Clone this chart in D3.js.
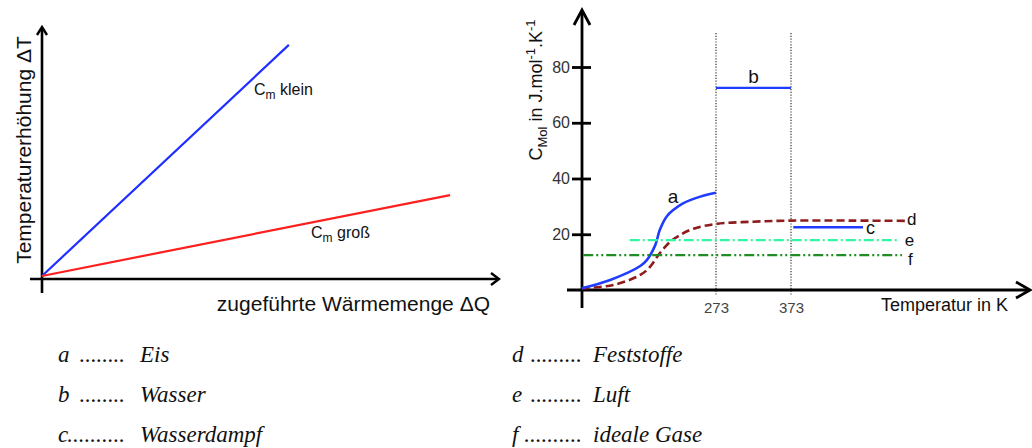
<!DOCTYPE html>
<html><head><meta charset="utf-8">
<script src="https://cdn.jsdelivr.net/npm/d3@7"></script>
<style>
body{margin:0;background:#fff}
svg text{font-family:"Liberation Sans",Arial,sans-serif;fill:#111}
svg text.leg{font-family:"Liberation Serif","Times New Roman",serif;font-style:italic}
</style></head><body>
<svg id="chart" width="1032" height="448"></svg>
<script>
// left diagram: temperature rise vs supplied heat
var lineNames = ["klein", "groß"];
var lineQ = [[0, 53.9], [0, 89.1]];
var lineT = [[1.2, 92.9], [1.2, 33.3]];
var lineColors = ["#1f2fff", "#ff1f1f"];

// right diagram: molar heat capacity vs temperature
var eisK = [94, 132, 172, 181, 192, 198, 207, 216, 229, 252, 273];
var eisC = [0.6, 3.6, 8.6, 10.8, 16.1, 21.5, 26.3, 28.7, 31.1, 33.5, 34.9];
var festK = [94, 136, 172, 185, 198, 212, 225, 243, 273, 322, 373, 456, 525];
var festC = [0.6, 1.8, 5.4, 8.3, 13.2, 17.3, 19.7, 22.0, 23.7, 24.5, 24.9, 24.9, 24.8];
var wasserK = [273, 373], wasserC = 72.5;
var dampfK = [376, 469], dampfC = 22.5;
var luftK = [158, 518], luftC = 17.9;
var gasK = [96, 521], gasC = 12.5;
var cTicks = [20, 40, 60, 80];
var tTicks = [273, 373];

// legend below
var legendKeys = ["a", "b", "c", "d", "e", "f"];
var legendDots = [8, 8, 10, 9, 9, 10];
var legendNames = ["Eis", "Wasser", "Wasserdampf", "Feststoffe", "Luft", "ideale Gase"];

var svg = d3.select("#chart");

function arrow(g, x, y, dir, w, l, sw) {
  // open chevron arrow head, dir: "up" or "right"
  var p = dir == "up"
    ? [[x - w, y + l], [x, y], [x + w, y + l]]
    : [[x - l, y - w], [x, y], [x - l, y + w]];
  g.append("path").attr("d", d3.line()(p))
    .attr("fill", "none").attr("stroke", "#000").attr("stroke-width", sw)
    .attr("stroke-linejoin", "miter");
}

// ---------- left chart ----------
var lx = d3.scaleLinear().domain([0, 100]).range([42, 500]);
var ly = d3.scaleLinear().domain([0, 100]).range([279, 27]);
var gl = svg.append("g");

gl.append("line").attr("x1", 30).attr("x2", 498).attr("y1", ly(0)).attr("y2", ly(0))
  .attr("stroke", "#000").attr("stroke-width", 2.6);
gl.append("line").attr("x1", lx(0)).attr("x2", lx(0)).attr("y1", 293).attr("y2", 28)
  .attr("stroke", "#000").attr("stroke-width", 2.6);
arrow(gl, 499, ly(0), "right", 6, 8, 2.4);
arrow(gl, lx(0), 27, "up", 5, 8, 2.4);

lineNames.forEach(function(n, i) {
  var pts = lineQ[i].map(function(q, j) { return [lx(q), ly(lineT[i][j])]; });
  gl.append("path").attr("d", d3.line()(pts))
    .attr("fill", "none").attr("stroke", lineColors[i]).attr("stroke-width", 2.2);
});

function cmLabel(g, x, y, word) {
  var t = g.append("text").attr("x", x).attr("y", y).style("font-size", "16px");
  t.append("tspan").text("C");
  t.append("tspan").attr("dy", 4).style("font-size", "12px").text("m");
  t.append("tspan").attr("dy", -4).text("\u00a0" + word);
}
cmLabel(gl, 254, 95, lineNames[0]);
cmLabel(gl, 311, 238, lineNames[1]);

gl.append("text").attr("x", 490).attr("y", 311).attr("text-anchor", "end")
  .style("font-size", "21px").text("zugeführte Wärmemenge ΔQ");
gl.append("text").attr("transform", "translate(31,150) rotate(-90)")
  .attr("text-anchor", "middle").style("font-size", "21px").text("Temperaturerhöhung ΔT");

// ---------- right chart ----------
var rx = d3.scaleLinear().domain([273, 373]).range([716, 791]);
var ry = d3.scaleLinear().domain([0, 80]).range([290, 67]);
var gr = svg.append("g");

// dotted phase-change lines
tTicks.forEach(function(t) {
  gr.append("line").attr("x1", rx(t)).attr("x2", rx(t)).attr("y1", 33).attr("y2", 296)
    .attr("stroke", "#222").attr("stroke-width", 1.1).attr("stroke-dasharray", "1.2,1.6");
});

// axes
gr.append("line").attr("x1", 567).attr("x2", 1029).attr("y1", ry(0)).attr("y2", ry(0))
  .attr("stroke", "#000").attr("stroke-width", 2.8);
gr.append("line").attr("x1", 582).attr("x2", 582).attr("y1", 308).attr("y2", 11)
  .attr("stroke", "#000").attr("stroke-width", 2.8);
arrow(gr, 1030, ry(0), "right", 8, 14, 2.8);
arrow(gr, 582, 10, "up", 8, 15, 2.8);

var yAx = gr.append("g").attr("transform", "translate(582,0)")
  .call(d3.axisLeft(ry).tickValues(cTicks).tickSize(10).tickPadding(12));
yAx.select(".domain").remove();
yAx.selectAll(".tick line").attr("x1", 9).attr("x2", -10)
  .attr("stroke", "#000").attr("stroke-width", 2.8);
yAx.selectAll(".tick text").attr("x", -12)
  .style("font-size", "16px").style("fill", "#333")
  .style("font-family", "'Liberation Sans',Arial,sans-serif");

var xAx = gr.append("g").attr("transform", "translate(0," + ry(0) + ")")
  .call(d3.axisBottom(rx).tickValues(tTicks).tickSize(0).tickPadding(12));
xAx.select(".domain").remove();
xAx.selectAll(".tick text").style("font-size", "15px").style("fill", "#444")
  .style("font-family", "'Liberation Sans',Arial,sans-serif");

// series
var curve = d3.line().curve(d3.curveCatmullRom.alpha(0.5))
  .x(function(d) { return rx(d[0]); }).y(function(d) { return ry(d[1]); });

gr.append("path").attr("d", curve(festK.map(function(k, i) { return [k, festC[i]]; })))
  .attr("fill", "none").attr("stroke", "#8e1c1c").attr("stroke-width", 2.6)
  .attr("stroke-dasharray", "8,4");
gr.append("path").attr("d", curve(eisK.map(function(k, i) { return [k, eisC[i]]; })))
  .attr("fill", "none").attr("stroke", "#1f3cff").attr("stroke-width", 2.6);

function hline(k, c, color, dash) {
  gr.append("line").attr("x1", rx(k[0])).attr("x2", rx(k[1])).attr("y1", ry(c)).attr("y2", ry(c))
    .attr("stroke", color).attr("stroke-width", 2.4).attr("stroke-dasharray", dash);
}
hline(luftK, luftC, "#33f5a6", "10,3,2,3");
hline(gasK, gasC, "#1f8f24", "10,3,2,3,2,3");
hline(wasserK, wasserC, "#1f3cff", null);
hline(dampfK, dampfC, "#1f3cff", null);

function lab(txt, x, y, anchor, size) {
  gr.append("text").attr("x", x).attr("y", y).attr("text-anchor", anchor || "start")
    .style("font-size", (size || 19) + "px").text(txt);
}
lab("a", 673, 203, "middle");
lab("b", rx((wasserK[0] + wasserK[1]) / 2), ry(wasserC) - 5, "middle");
lab("c", rx(dampfK[1]) + 3, ry(dampfC) + 7, null, 18);
lab("d", rx(festK[festK.length - 1]) + 2, ry(festC[festC.length - 1]) + 4, null, 17);
lab("e", rx(luftK[1]) + 5, ry(luftC) + 6, null, 17);
lab("f", rx(gasK[1]) + 6, ry(gasC) + 10, null, 17);

gr.append("text").attr("x", 1008).attr("y", 311).attr("text-anchor", "end")
  .style("font-size", "18px").text("Temperatur in K");

var yl = gr.append("text").attr("transform", "translate(542,90) rotate(-90)")
  .attr("text-anchor", "middle").style("font-size", "18px");
yl.append("tspan").text("C");
yl.append("tspan").attr("dy", 5).style("font-size", "13px").text("Mol");
yl.append("tspan").attr("dy", -5).text(" in J.mol");
yl.append("tspan").attr("dy", -7).style("font-size", "13px").text("-1");
yl.append("tspan").attr("dy", 7).text(".K");
yl.append("tspan").attr("dy", -7).style("font-size", "13px").text("-1");

// ---------- legend ----------
var gLeg = svg.append("g");
legendKeys.forEach(function(k, i) {
  var col = Math.floor(i / 3), row = i % 3;
  var x0 = col == 0 ? 58 : 512;
  var y0 = 362 + row * 40;
  var dotEnd = col == 0 ? 125 : 582;
  var dotStart = dotEnd - (legendDots[i] - 1) * 6.2 - 2;
  var wordX = col == 0 ? 140 : 593;
  gLeg.append("text").attr("class", "leg").attr("x", x0).attr("y", y0)
    .style("font-size", "23px").text(k);
  gLeg.append("text").attr("class", "leg").attr("x", dotStart).attr("y", y0)
    .style("font-size", "23px")
    .attr("textLength", dotEnd - dotStart).attr("lengthAdjust", "spacing")
    .text(d3.range(legendDots[i]).map(function() { return "."; }).join(""));
  gLeg.append("text").attr("class", "leg").attr("x", wordX).attr("y", y0)
    .style("font-size", "23px").text(legendNames[i]);
});
</script>
</body></html>
